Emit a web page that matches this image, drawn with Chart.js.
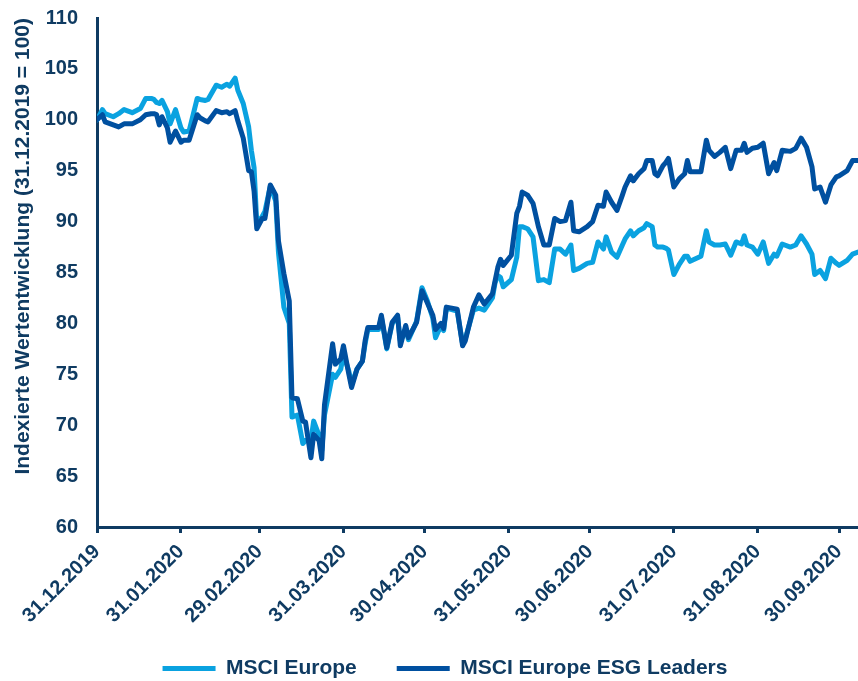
<!DOCTYPE html>
<html>
<head>
<meta charset="utf-8">
<script src="https://cdn.jsdelivr.net/npm/chart.js@4.4.0/dist/chart.umd.min.js"></script>
<style>
  html, body { margin: 0; padding: 0; background: #fff; }
</style>
</head>
<body>
<canvas id="chart" width="858" height="681"></canvas>
<script>
// trading days (roughly every 2 days)
const dates = [
  '31.12.2019', '02.01.2020', '03.01.2020', '06.01.2020', '08.01.2020', '10.01.2020', '13.01.2020', '16.01.2020', '18.01.2020', '20.01.2020',
  '21.01.2020', '22.01.2020', '23.01.2020', '24.01.2020', '26.01.2020', '27.01.2020', '29.01.2020', '31.01.2020', '01.02.2020', '03.02.2020',
  '06.02.2020', '07.02.2020', '09.02.2020', '10.02.2020', '13.02.2020', '15.02.2020', '17.02.2020', '18.02.2020', '20.02.2020', '21.02.2020',
  '23.02.2020', '25.02.2020', '26.02.2020', '27.02.2020', '28.02.2020', '01.03.2020', '02.03.2020', '04.03.2020', '06.03.2020', '07.03.2020',
  '09.03.2020', '11.03.2020', '12.03.2020', '14.03.2020', '16.03.2020', '17.03.2020', '19.03.2020', '20.03.2020', '22.03.2020', '23.03.2020',
  '24.03.2020', '27.03.2020', '28.03.2020', '30.03.2020', '31.03.2020', '02.04.2020', '03.04.2020', '05.04.2020', '07.04.2020', '08.04.2020',
  '09.04.2020', '13.04.2020', '14.04.2020', '16.04.2020', '18.04.2020', '20.04.2020', '21.04.2020', '23.04.2020', '24.04.2020', '27.04.2020',
  '29.04.2020', '01.05.2020', '03.05.2020', '04.05.2020', '06.05.2020', '07.05.2020', '08.05.2020', '12.05.2020', '14.05.2020', '15.05.2020',
  '18.05.2020', '20.05.2020', '22.05.2020', '25.05.2020', '26.05.2020', '27.05.2020', '28.05.2020', '29.05.2020', '01.06.2020', '03.06.2020',
  '04.06.2020', '05.06.2020', '07.06.2020', '09.06.2020', '11.06.2020', '13.06.2020', '15.06.2020', '17.06.2020', '19.06.2020', '21.06.2020',
  '23.06.2020', '24.06.2020', '26.06.2020', '29.06.2020', '01.07.2020', '03.07.2020', '05.07.2020', '06.07.2020', '08.07.2020', '10.07.2020',
  '12.07.2020', '13.07.2020', '15.07.2020', '16.07.2020', '18.07.2020', '20.07.2020', '21.07.2020', '23.07.2020', '24.07.2020', '25.07.2020',
  '27.07.2020', '28.07.2020', '29.07.2020', '31.07.2020', '02.08.2020', '04.08.2020', '05.08.2020', '06.08.2020', '10.08.2020', '12.08.2020',
  '13.08.2020', '15.08.2020', '17.08.2020', '19.08.2020', '21.08.2020', '23.08.2020', '25.08.2020', '26.08.2020', '27.08.2020', '29.08.2020',
  '31.08.2020', '02.09.2020', '04.09.2020', '06.09.2020', '07.09.2020', '09.09.2020', '12.09.2020', '14.09.2020', '16.09.2020', '18.09.2020',
  '20.09.2020', '21.09.2020', '23.09.2020', '25.09.2020', '27.09.2020', '29.09.2020', '30.09.2020', '03.10.2020', '05.10.2020', '07.10.2020'
];

const msciEurope = [
  100, 101, 100.6, 100.3, 100.6, 101, 100.7, 101.1, 102.1, 102.1,
  102.0, 101.7, 101.6, 101.9, 100.8, 99.6, 101.0, 99.2, 98.8, 98.9,
  102.1, 102.0, 101.9, 102.0, 103.4, 103.2, 103.5, 103.3, 104.1, 102.9,
  101.6, 99.3, 97.0, 95.3, 89.8, 90.5, 91.0, 93.5, 92.0, 87.0,
  81.6, 80.0, 70.8, 71.0, 68.2, 68.5, 68.5, 70.4, 69.0, 67.5,
  71.0, 75.0, 74.7, 75.5, 77.0, 75.3, 74.0, 75.5, 76.3, 78.0,
  79.4, 79.4, 80.6, 77.5, 80.0, 80.6, 78.3, 79.4, 78.4, 80.2,
  83.5, 82.2, 80.5, 78.6, 79.8, 79.3, 81.5, 81.2, 78.0, 78.5,
  81.3, 81.5, 81.3, 82.5, 84.0, 84.7, 84.5, 83.6, 84.3, 86.5,
  89.5, 89.5, 89.3, 88.5, 84.2, 84.3, 84.0, 87.3, 87.3, 86.8,
  87.7, 85.2, 85.4, 85.9, 86.0, 88.0, 87.3, 88.5, 87.0, 86.5,
  87.7, 88.3, 89.1, 88.6, 89.1, 89.4, 89.8, 89.5, 87.7, 87.5,
  87.5, 87.4, 87.2, 84.8, 85.8, 86.6, 86.6, 86.1, 86.6, 89.1,
  88.0, 87.7, 87.7, 87.8, 86.7, 88.0, 87.8, 88.6, 87.7, 87.5,
  86.8, 88.0, 85.9, 86.8, 86.6, 87.8, 87.5, 87.7, 88.6, 87.8,
  86.8, 84.8, 85.2, 84.4, 86.4, 85.9, 85.7, 86.2, 86.8, 87.0
];

const esgLeaders = [
  100, 100.5, 99.8, 99.5, 99.3, 99.6, 99.6, 100.0, 100.5, 100.6,
  100.6, 100.5, 99.5, 100.3, 99.2, 97.8, 98.9, 97.8, 98.0, 98.0,
  100.5, 100.2, 99.9, 99.8, 100.9, 100.7, 100.8, 100.6, 100.9, 99.9,
  98.2, 95.0, 94.9, 93.0, 89.3, 90.3, 90.3, 93.6, 92.6, 88.1,
  84.9, 82.2, 72.7, 72.6, 70.4, 70.3, 66.8, 69.1, 68.5, 66.7,
  72.0, 78.0, 76.0, 76.5, 77.8, 75.0, 73.7, 75.5, 76.3, 78.3,
  79.6, 79.6, 80.8, 77.6, 80.1, 80.8, 77.8, 79.8, 78.6, 80.1,
  83.2, 82.0, 80.8, 79.4, 80.0, 79.5, 81.6, 81.4, 77.8, 78.3,
  81.6, 82.8, 81.9, 82.9, 84.2, 85.5, 86.3, 85.7, 86.7, 90.8,
  91.5, 92.9, 92.6, 91.8, 89.5, 87.7, 87.7, 90.3, 90.0, 90.1,
  91.9, 89.1, 89.0, 89.5, 90.0, 91.6, 91.5, 92.9, 91.9, 91.1,
  92.6, 93.4, 94.5, 94.0, 94.7, 95.2, 96.0, 96.0, 94.7, 94.5,
  95.5, 95.8, 96.2, 93.4, 94.2, 94.7, 96.0, 94.9, 94.9, 98.0,
  97.0, 96.4, 96.8, 97.3, 95.2, 97.0, 97.0, 97.7, 96.8, 97.2,
  97.3, 97.7, 94.7, 95.8, 95.0, 97.0, 96.9, 97.2, 98.2, 97.3,
  95.4, 93.2, 93.4, 91.9, 93.6, 94.4, 94.5, 95.0, 96.0, 96.0
];

const tickDates = [
  '31.12.2019', '31.01.2020', '29.02.2020', '31.03.2020', '30.04.2020',
  '31.05.2020', '30.06.2020', '31.07.2020', '31.08.2020', '30.09.2020'
];

const NAVY = '#0f3b62';
const LIGHT = '#0aa2e0';
const DARK = '#0050a0';

// days since 31.12.2019
function dayOffset(str) {
  const [d, m, y] = str.split('.').map(Number);
  return (Date.UTC(y, m - 1, d) - Date.UTC(2019, 11, 31)) / 86400000;
}

function toPoints(values) {
  return values.map((v, i) => ({ x: dayOffset(dates[i]), y: v }));
}

// legend sits a bit lower and to the right in the original
const legendNudge = {
  id: 'legendNudge',
  afterLayout(chart) {
    const lg = chart.legend;
    lg.left += 16;
    lg.right += 16;
    lg.top += 8;
    lg.bottom += 8;
  }
};

Chart.defaults.font.family = '"Liberation Sans", Arial, sans-serif';
Chart.defaults.font.weight = 'bold';
Chart.defaults.color = NAVY;

new Chart(document.getElementById('chart'), {
  type: 'line',
  data: {
    datasets: [
      {
        label: 'MSCI Europe ESG Leaders',
        data: toPoints(esgLeaders),
        borderColor: DARK,
        backgroundColor: DARK,
        borderWidth: 5,
        borderCapStyle: 'round',
        borderJoinStyle: 'round',
        pointRadius: 0,
        tension: 0
      },
      {
        label: 'MSCI Europe',
        data: toPoints(msciEurope),
        borderColor: LIGHT,
        backgroundColor: LIGHT,
        borderWidth: 5,
        borderCapStyle: 'round',
        borderJoinStyle: 'round',
        pointRadius: 0,
        tension: 0
      }
    ]
  },
  plugins: [legendNudge],
  options: {
    responsive: false,
    animation: false,
    devicePixelRatio: 1,
    layout: { padding: { top: 18, right: 0, left: 0, bottom: 0 } },
    plugins: {
      tooltip: { enabled: false },
      legend: {
        position: 'bottom',
        reverse: true,
        labels: {
          usePointStyle: true,
          pointStyle: 'line',
          pointStyleWidth: 53,
          padding: 40,
          color: NAVY,
          font: { size: 21, weight: 'bold' }
        }
      }
    },
    scales: {
      x: {
        type: 'linear',
        min: 0,
        max: dayOffset('07.10.2020'),
        afterBuildTicks: (scale) => {
          scale.ticks = tickDates.map(d => ({ value: dayOffset(d) }));
        },
        ticks: {
          autoSkip: false,
          minRotation: 45,
          maxRotation: 45,
          padding: 7,
          color: NAVY,
          font: { size: 20, weight: 'bold' },
          callback: (value, index) => tickDates[index]
        },
        grid: { drawOnChartArea: false, tickLength: 6, tickWidth: 3, tickColor: NAVY },
        border: { color: NAVY, width: 3 },
        afterFit: (scale) => {
          scale.height = 83;
          // plot runs right up to the canvas edge
          scale.paddingRight = 0;
          // rotated labels reach into the legend band, don't clip them
          scale._computeLabelArea = () => undefined;
        }
      },
      y: {
        min: 60,
        max: 110,
        ticks: {
          stepSize: 5,
          padding: 3,
          color: NAVY,
          font: { size: 20, weight: 'bold' }
        },
        grid: { drawOnChartArea: false, drawTicks: true, tickLength: 16, tickColor: 'rgba(0,0,0,0)' },
        border: { color: NAVY, width: 3 },
        title: {
          display: true,
          text: 'Indexierte Wertentwicklung (31.12.2019 = 100)',
          align: 'end',
          color: NAVY,
          font: { size: 21, weight: 'bold' },
          padding: { top: 11, bottom: 0 }
        },
        afterFit: (scale) => { scale.width = 97; }
      }
    }
  }
});
</script>
</body>
</html>
